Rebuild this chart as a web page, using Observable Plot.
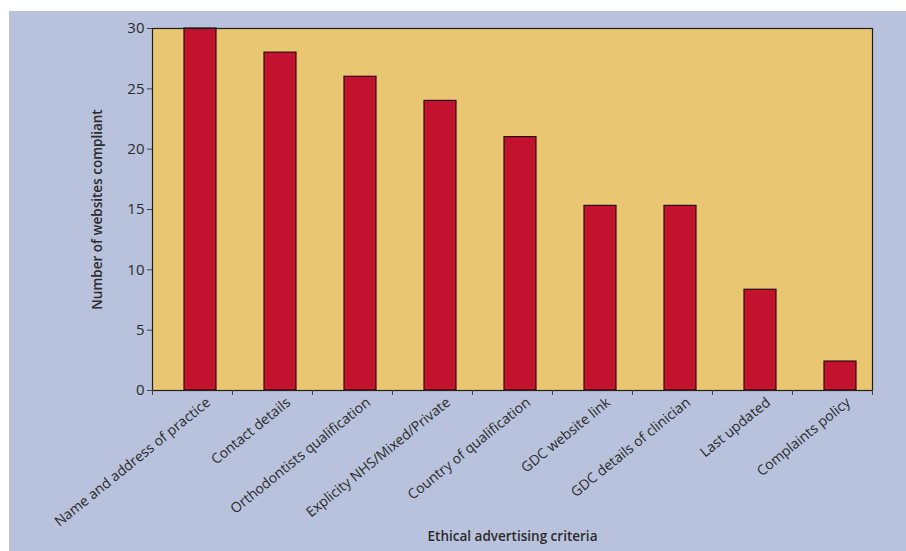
<!DOCTYPE html>
<html>
<head>
<meta charset="utf-8">
<script src="https://cdn.jsdelivr.net/npm/d3@7"></script>
<script src="https://cdn.jsdelivr.net/npm/@observablehq/plot@0.6"></script>
<style>
  html, body { margin: 0; padding: 0; background: #ffffff; }
  #wrap { position: absolute; left: 9px; top: 11px; width: 897px; height: 540px; background: #b9c2dc; }
  svg { font-family: "Open Sans", "Noto Sans", sans-serif; }
</style>
</head>
<body>
<div id="wrap"></div>
<script>
const categories = [
  "Name and address of practice",
  "Contact details",
  "Orthodontists qualification",
  "Explicity NHS/Mixed/Private",
  "Country of qualification",
  "GDC website link",
  "GDC details of clinician",
  "Last updated",
  "Complaints policy"
];
const compliant = [30, 28, 26, 24, 21, 15.3, 15.3, 8.35, 2.4];
const yTicks = [0, 5, 10, 15, 20, 25, 30];
const yTitle = "Number of websites compliant";
const xTitle = "Ethical advertising criteria";

const data = categories.map((c, i) => ({category: c, value: compliant[i]}));

const chart = Plot.plot({
  width: 897,
  height: 540,
  marginLeft: 143,
  marginTop: 17,
  marginRight: 34,
  marginBottom: 161,
  style: {background: "transparent", color: "#2b2b2b", fontSize: "14px"},
  x: {domain: categories, paddingInner: 0.6, paddingOuter: 0.3, align: 2/3, label: null},
  y: {domain: [0, 30], label: null},
  marks: [
    Plot.frame({fill: "#e8c672", stroke: "none"}),
    Plot.barY(data, {x: "category", y: "value", fill: "#c31130", stroke: "#2a0c10", strokeWidth: 1.2}),
    Plot.frame({stroke: "#1e1e1e", strokeWidth: 1.2}),
    Plot.axisY({ticks: yTicks, tickSize: 5, tickPadding: 3, fontSize: 15, stroke: "#444",
      label: yTitle, labelAnchor: "center", labelArrow: "none", labelOffset: 60}),
    Plot.axisX({text: null, tickSize: 5, dx: 32, stroke: "#444", label: null}),
    Plot.axisX([categories[0]], {text: null, tickSize: 5, dx: -48, stroke: "#444", label: null}),
    Plot.axisX({tickSize: 0, tickRotate: -39, dx: 8, dy: -2, fontSize: 14,
      label: xTitle, labelAnchor: "center", labelArrow: "none", labelOffset: 150})
  ]
});
d3.select(chart).selectAll("[aria-label='y-axis label'] text, [aria-label='x-axis label'] text")
  .each(function() { this.textContent = this.textContent.replace(/\s*[←↑→↓]\s*/g, ""); })
  .style("font-size", "13.5px").style("font-weight", "600");
document.getElementById("wrap").appendChild(chart);
</script>
</body>
</html>
